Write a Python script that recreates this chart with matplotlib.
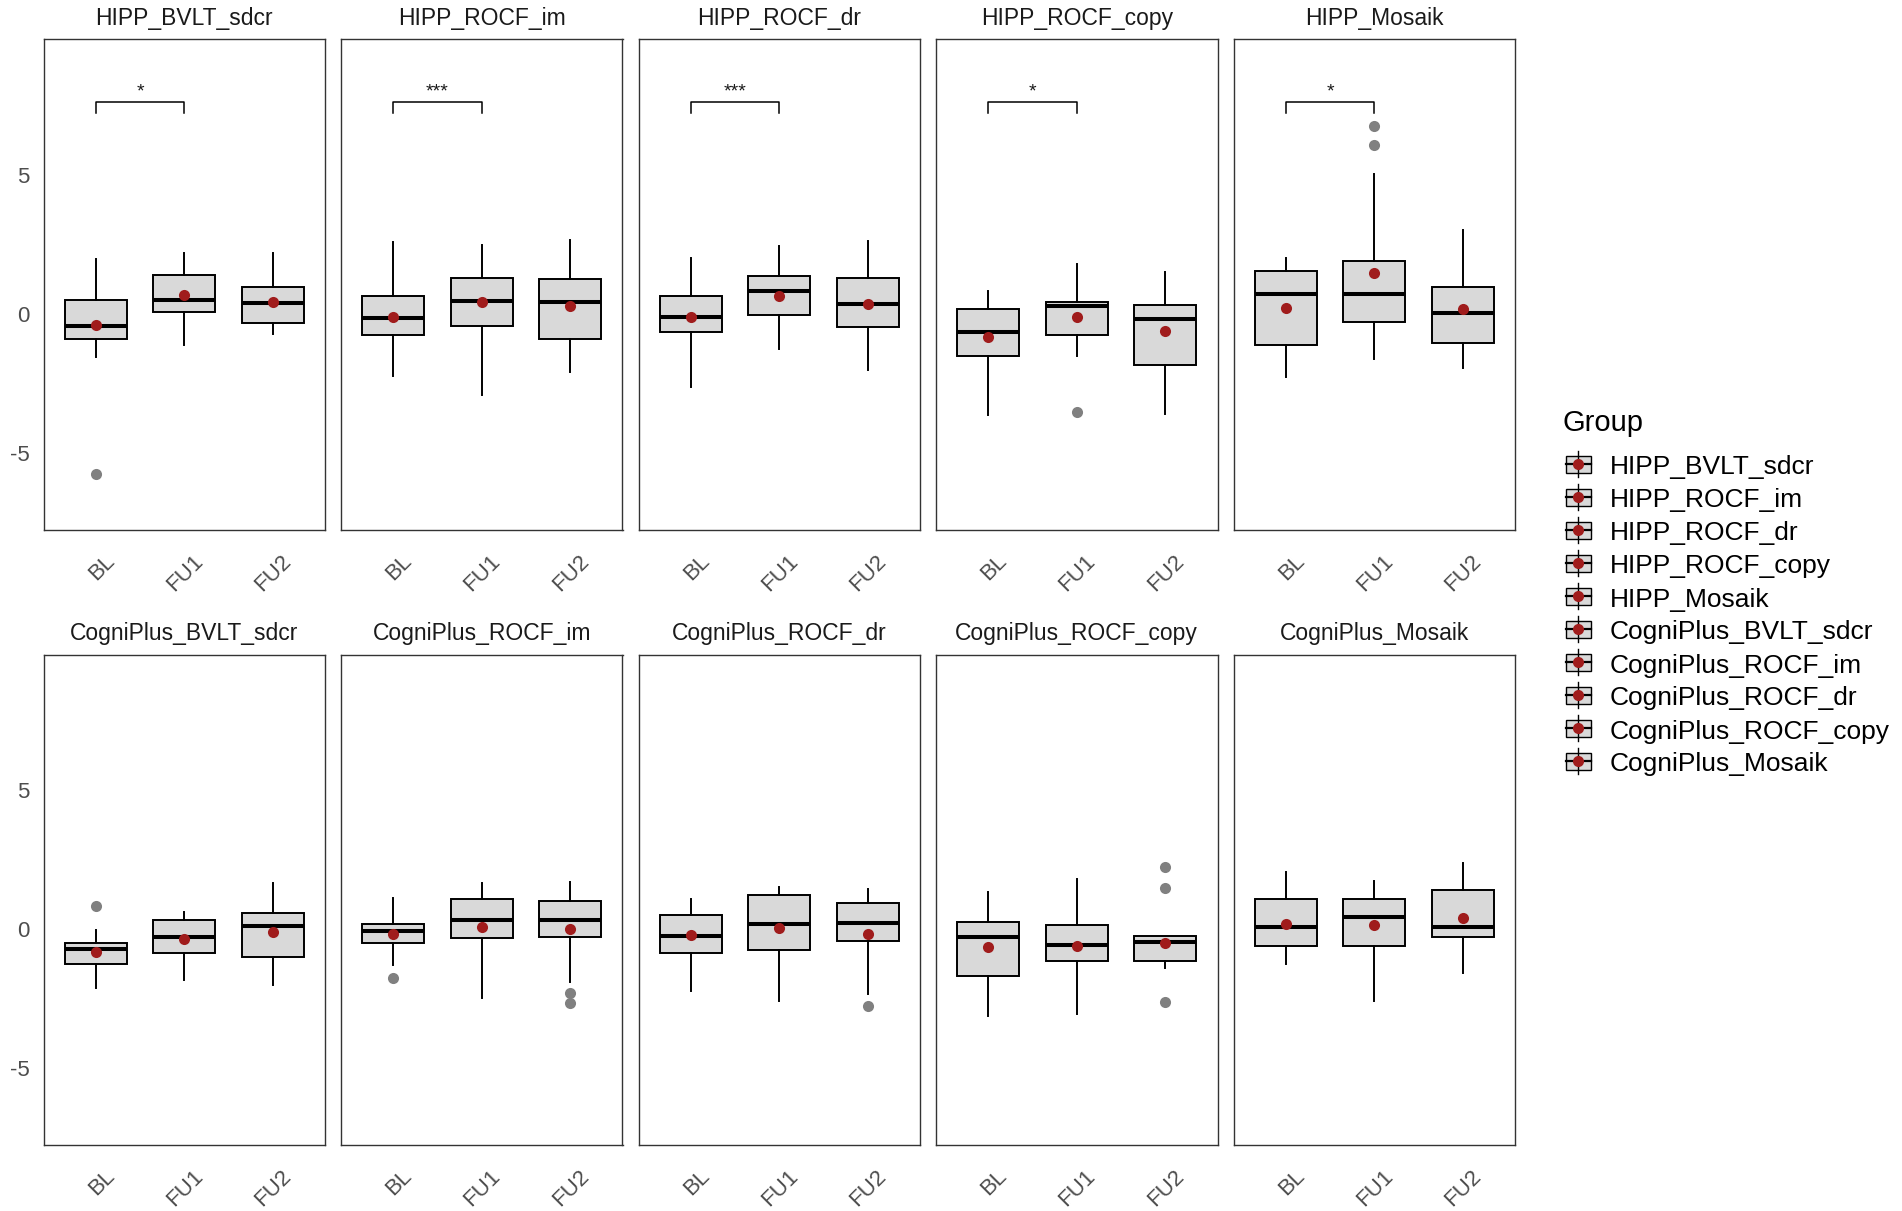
import matplotlib
matplotlib.use('Agg')
import matplotlib.pyplot as plt
from matplotlib.lines import Line2D
from matplotlib.patches import Rectangle
import matplotlib.transforms as mtransforms

plt.rcParams['font.family'] = ['Liberation Sans', 'DejaVu Sans']
plt.rcParams['axes.unicode_minus'] = False

# ---------------- data ----------------
groups = ['HIPP_BVLT_sdcr', 'HIPP_ROCF_im', 'HIPP_ROCF_dr', 'HIPP_ROCF_copy', 'HIPP_Mosaik',
          'CogniPlus_BVLT_sdcr', 'CogniPlus_ROCF_im', 'CogniPlus_ROCF_dr',
          'CogniPlus_ROCF_copy', 'CogniPlus_Mosaik']
timepoints = ['BL', 'FU1', 'FU2']

whisker_low = [
    [-1.55, -1.13, -0.73],
    [-2.24, -2.91, -2.10],
    [-2.64, -1.28, -2.02],
    [-3.63, -1.50, -3.60],
    [-2.27, -1.61, -1.95],
    [-2.12, -1.84, -2.00],
    [-1.29, -2.47, -1.91],
    [-2.21, -2.57, -2.32],
    [-3.12, -3.04, -1.39],
    [-1.25, -2.58, -1.57]]
q1 = [
    [-0.91, 0.07, -0.33],
    [-0.76, -0.44, -0.92],
    [-0.67, -0.04, -0.49],
    [-1.52, -0.77, -1.83],
    [-1.13, -0.30, -1.04],
    [-1.26, -0.87, -1.00],
    [-0.51, -0.33, -0.30],
    [-0.85, -0.76, -0.43],
    [-1.69, -1.15, -1.15],
    [-0.60, -0.60, -0.27]]
median = [
    [-0.45, 0.48, 0.38],
    [-0.16, 0.45, 0.44],
    [-0.10, 0.82, 0.37],
    [-0.65, 0.27, -0.19],
    [0.70, 0.71, 0.04],
    [-0.73, -0.30, 0.11],
    [-0.07, 0.33, 0.34],
    [-0.25, 0.19, 0.22],
    [-0.30, -0.58, -0.48],
    [0.08, 0.44, 0.08]]
q3 = [
    [0.48, 1.39, 0.95],
    [0.65, 1.29, 1.24],
    [0.65, 1.35, 1.29],
    [0.19, 0.44, 0.30],
    [1.55, 1.88, 0.98],
    [-0.51, 0.32, 0.59],
    [0.19, 1.09, 1.02],
    [0.51, 1.22, 0.95],
    [0.27, 0.16, -0.26],
    [1.07, 1.07, 1.40]]
whisker_high = [
    [1.98, 2.20, 2.20],
    [2.58, 2.46, 2.64],
    [2.02, 2.43, 2.60],
    [0.82, 1.79, 1.50],
    [2.02, 5.01, 3.02],
    [-0.03, 0.63, 1.65],
    [1.11, 1.65, 1.70],
    [1.07, 1.51, 1.44],
    [1.33, 1.80, -0.26],
    [2.06, 1.73, 2.39]]
means = [
    [-0.41, 0.66, 0.41],
    [-0.11, 0.41, 0.27],
    [-0.11, 0.65, 0.37],
    [-0.82, -0.11, -0.63],
    [0.22, 1.46, 0.18],
    [-0.82, -0.36, -0.10],
    [-0.18, 0.07, 0.00],
    [-0.21, 0.04, -0.16],
    [-0.65, -0.60, -0.51],
    [0.19, 0.14, 0.40]]
outliers = [
    [[-5.74], [], []],
    [[], [], []],
    [[], [], []],
    [[], [-3.53], []],
    [[], [6.73, 6.07], []],
    [[0.82], [], []],
    [[-1.77], [], [-2.31, -2.66]],
    [[], [], [-2.77]],
    [[], [], [2.24, 1.48, -2.61]],
    [[], [], []]]
# significance BL vs FU1 (top row only)
significance = ['*', '***', '***', '*', '*', '', '', '', '', '']
bracket_y = 7.6
bracket_tick = 7.21
star_y = 7.8

# ---------------- styling ----------------
BOX_FILL = '#D9D9D9'
MEAN_COL = '#A01C1C'
OUT_COL = '#808080'
BORDER = '#333333'
TICK_COL = '#4D4D4D'

W, H = 1902, 1211
fig = plt.figure(figsize=(W / 100, H / 100), dpi=100)
fig.patch.set_facecolor('white')

lefts = [43.5, 341, 638.5, 936, 1233.5]
pw = 281.5
rows = [(39.4, 530), (655, 1145)]
positions = [1, 2, 3]

for i, g in enumerate(groups):
    r, c = divmod(i, 5)
    top, bot = rows[r]
    ax = fig.add_axes([lefts[c] / W, 1 - bot / H, pw / W, (bot - top) / H])
    stats = []
    for j in range(3):
        stats.append(dict(whislo=whisker_low[i][j], q1=q1[i][j], med=median[i][j],
                          q3=q3[i][j], whishi=whisker_high[i][j],
                          fliers=outliers[i][j], mean=means[i][j]))
    ax.bxp(stats, positions=positions, widths=0.7, showmeans=True, showcaps=False,
           patch_artist=True,
           boxprops=dict(facecolor=BOX_FILL, edgecolor='black', linewidth=1.4),
           medianprops=dict(color='black', linewidth=2.9),
           whiskerprops=dict(color='black', linewidth=1.4),
           flierprops=dict(marker='o', markerfacecolor=OUT_COL, markeredgecolor='none',
                           markersize=8),
           meanprops=dict(marker='o', markerfacecolor=MEAN_COL, markeredgecolor='none',
                          markersize=8, zorder=5))
    ax.set_xlim(0.41, 3.59)
    ax.set_ylim(-7.76, 9.85)
    ax.set_yticks([-5, 0, 5])
    ax.set_xticks(positions)
    ax.set_xticklabels(timepoints, rotation=45, ha='right', va='top',
                       rotation_mode='anchor', fontsize=16, color=TICK_COL)
    ax.tick_params(axis='both', length=0)
    ax.tick_params(axis='x', pad=15)
    ax.tick_params(axis='y', pad=10, labelsize=16, labelcolor=TICK_COL)
    off = mtransforms.ScaledTranslation(8 / 100, 0, fig.dpi_scale_trans)
    for lbl in ax.get_xticklabels():
        lbl.set_transform(lbl.get_transform() + off)
    if c != 0:
        ax.set_yticklabels([])
    for sp in ax.spines.values():
        sp.set_color(BORDER)
        sp.set_linewidth(1.0)
    ax.set_title(g, fontsize=16.5, pad=10.5, color='#1A1A1A')
    if significance[i]:
        ax.plot([1, 1, 2, 2], [bracket_tick, bracket_y, bracket_y, bracket_tick],
                color='black', lw=1.1)
        ax.text(1.5, star_y, significance[i], ha='center', va='baseline',
                fontsize=14, color='#1A1A1A')

# ---------------- legend ----------------
def fx(x):
    return x / W

def fy(y):
    return 1 - y / H

fig.text(fx(1563), fy(431), 'Group', fontsize=21, ha='left', va='baseline',
         color='black')
key_x = 1578
for k, g in enumerate(groups):
    yc = 464 + 33 * k
    fig.add_artist(Line2D([fx(key_x), fx(key_x)], [fy(yc - 13), fy(yc + 13)],
                          transform=fig.transFigure, color='black', lw=1.0))
    fig.add_artist(Rectangle((fx(key_x - 12.5), fy(yc + 8.5)), 25 / W, 17 / H,
                             transform=fig.transFigure, facecolor=BOX_FILL,
                             edgecolor='black', lw=1.0))
    fig.add_artist(Line2D([fx(key_x - 12.5), fx(key_x + 12.5)], [fy(yc), fy(yc)],
                          transform=fig.transFigure, color='black', lw=1.6))
    fig.add_artist(Line2D([fx(key_x)], [fy(yc)], transform=fig.transFigure,
                          marker='o', markersize=8, markerfacecolor=MEAN_COL,
                          markeredgecolor='none', linestyle='none'))
    fig.text(fx(1610), fy(yc + 10.5), g, fontsize=19, ha='left', va='baseline',
             color='black')

fig.savefig('out.png', dpi=100, facecolor='white')
